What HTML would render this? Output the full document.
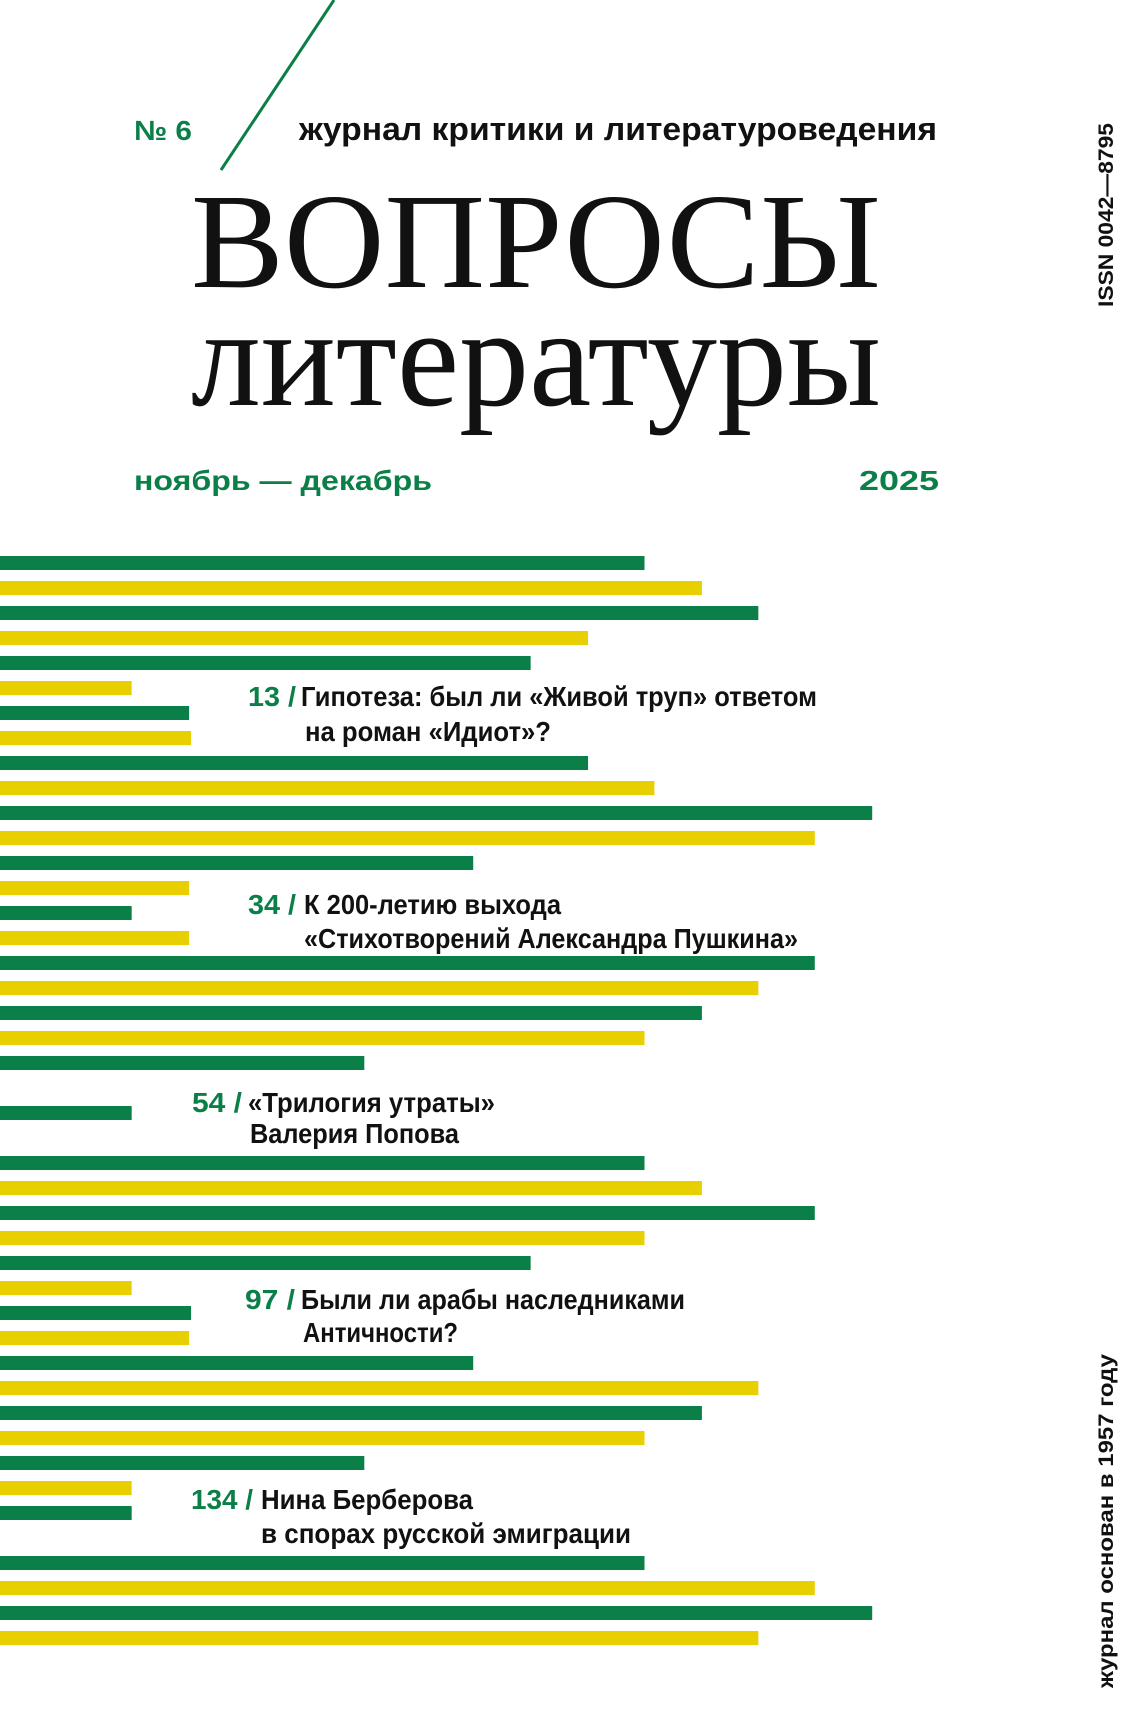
<!DOCTYPE html>
<html><head><meta charset="utf-8"><style>
html,body{margin:0;padding:0;background:#fff;}
svg{display:block;}
.n{fill:#0b7f48;font-family:"Liberation Sans",sans-serif;font-weight:bold;font-size:28px;}
.t{fill:#111;font-family:"Liberation Sans",sans-serif;font-weight:bold;font-size:28px;}
</style></head><body>
<svg width="1142" height="1733" viewBox="0 0 1142 1733" xmlns="http://www.w3.org/2000/svg">
<rect width="1142" height="1733" fill="#fff"/>
<line x1="334" y1="0" x2="221" y2="170" stroke="#0b7f48" stroke-width="3"/>
<text x="134" y="140" class="n" font-size="30" textLength="58" lengthAdjust="spacingAndGlyphs">№ 6</text>
<text x="299" y="140" fill="#111" font-family="Liberation Sans,sans-serif" font-weight="bold" font-size="32" textLength="638" lengthAdjust="spacingAndGlyphs">журнал критики и литературоведения</text>
<text x="191" y="287" fill="#111" font-family="Liberation Serif,serif" font-size="136" textLength="690" lengthAdjust="spacingAndGlyphs">ВОПРОСЫ</text>
<text x="191" y="405" fill="#111" font-family="Liberation Serif,serif" font-size="141" textLength="690" lengthAdjust="spacingAndGlyphs">литературы</text>
<text x="134" y="490" class="n" font-size="30" textLength="298" lengthAdjust="spacingAndGlyphs">ноябрь — декабрь</text>
<text x="859" y="490" class="n" font-size="30" textLength="80" lengthAdjust="spacingAndGlyphs">2025</text>
<text transform="translate(1113,307) rotate(-90)" fill="#111" font-family="Liberation Sans,sans-serif" font-weight="bold" font-size="21" textLength="184" lengthAdjust="spacingAndGlyphs">ISSN 0042—8795</text>
<text transform="translate(1113,1688) rotate(-90)" fill="#111" font-family="Liberation Sans,sans-serif" font-weight="bold" font-size="21" textLength="334" lengthAdjust="spacingAndGlyphs">журнал основан в 1957 году</text>
<g transform="scale(0.99,1)">
<rect x="0" y="556" width="651" height="14" fill="#0b7f48"/>
<rect x="0" y="581" width="709" height="14" fill="#e8d000"/>
<rect x="0" y="606" width="766" height="14" fill="#0b7f48"/>
<rect x="0" y="631" width="594" height="14" fill="#e8d000"/>
<rect x="0" y="656" width="536" height="14" fill="#0b7f48"/>
<rect x="0" y="681" width="133" height="14" fill="#e8d000"/>
<rect x="0" y="706" width="191" height="14" fill="#0b7f48"/>
<rect x="0" y="731" width="193" height="14" fill="#e8d000"/>
<rect x="0" y="756" width="594" height="14" fill="#0b7f48"/>
<rect x="0" y="781" width="661" height="14" fill="#e8d000"/>
<rect x="0" y="806" width="881" height="14" fill="#0b7f48"/>
<rect x="0" y="831" width="823" height="14" fill="#e8d000"/>
<rect x="0" y="856" width="478" height="14" fill="#0b7f48"/>
<rect x="0" y="881" width="191" height="14" fill="#e8d000"/>
<rect x="0" y="906" width="133" height="14" fill="#0b7f48"/>
<rect x="0" y="931" width="191" height="14" fill="#e8d000"/>
<rect x="0" y="956" width="823" height="14" fill="#0b7f48"/>
<rect x="0" y="981" width="766" height="14" fill="#e8d000"/>
<rect x="0" y="1006" width="709" height="14" fill="#0b7f48"/>
<rect x="0" y="1031" width="651" height="14" fill="#e8d000"/>
<rect x="0" y="1056" width="368" height="14" fill="#0b7f48"/>
<rect x="0" y="1106" width="133" height="14" fill="#0b7f48"/>
<rect x="0" y="1156" width="651" height="14" fill="#0b7f48"/>
<rect x="0" y="1181" width="709" height="14" fill="#e8d000"/>
<rect x="0" y="1206" width="823" height="14" fill="#0b7f48"/>
<rect x="0" y="1231" width="651" height="14" fill="#e8d000"/>
<rect x="0" y="1256" width="536" height="14" fill="#0b7f48"/>
<rect x="0" y="1281" width="133" height="14" fill="#e8d000"/>
<rect x="0" y="1306" width="193" height="14" fill="#0b7f48"/>
<rect x="0" y="1331" width="191" height="14" fill="#e8d000"/>
<rect x="0" y="1356" width="478" height="14" fill="#0b7f48"/>
<rect x="0" y="1381" width="766" height="14" fill="#e8d000"/>
<rect x="0" y="1406" width="709" height="14" fill="#0b7f48"/>
<rect x="0" y="1431" width="651" height="14" fill="#e8d000"/>
<rect x="0" y="1456" width="368" height="14" fill="#0b7f48"/>
<rect x="0" y="1481" width="133" height="14" fill="#e8d000"/>
<rect x="0" y="1506" width="133" height="14" fill="#0b7f48"/>
<rect x="0" y="1556" width="651" height="14" fill="#0b7f48"/>
<rect x="0" y="1581" width="823" height="14" fill="#e8d000"/>
<rect x="0" y="1606" width="881" height="14" fill="#0b7f48"/>
<rect x="0" y="1631" width="766" height="14" fill="#e8d000"/>
</g>

<text x="248" y="706" class="n" textLength="48" lengthAdjust="spacingAndGlyphs">13 /</text>
<text x="301" y="706" class="t" textLength="516" lengthAdjust="spacingAndGlyphs">Гипотеза: был ли «Живой труп» ответом</text>
<text x="305" y="741" class="t" textLength="246" lengthAdjust="spacingAndGlyphs">на роман «Идиот»?</text>

<text x="248" y="914" class="n" textLength="48" lengthAdjust="spacingAndGlyphs">34 /</text>
<text x="304" y="914" class="t" textLength="257" lengthAdjust="spacingAndGlyphs">К 200-летию выхода</text>
<text x="304" y="948" class="t" textLength="494" lengthAdjust="spacingAndGlyphs">«Стихотворений Александра Пушкина»</text>

<text x="192" y="1112" class="n" textLength="50" lengthAdjust="spacingAndGlyphs">54 /</text>
<text x="248" y="1112" class="t" textLength="247" lengthAdjust="spacingAndGlyphs">«Трилогия утраты»</text>
<text x="250" y="1143" class="t" textLength="209" lengthAdjust="spacingAndGlyphs">Валерия Попова</text>

<text x="245" y="1309" class="n" textLength="50" lengthAdjust="spacingAndGlyphs">97 /</text>
<text x="301" y="1309" class="t" textLength="384" lengthAdjust="spacingAndGlyphs">Были ли арабы наследниками</text>
<text x="303" y="1342" class="t" textLength="155" lengthAdjust="spacingAndGlyphs">Античности?</text>

<text x="191" y="1509" class="n" textLength="62" lengthAdjust="spacingAndGlyphs">134 /</text>
<text x="261" y="1509" class="t" textLength="212" lengthAdjust="spacingAndGlyphs">Нина Берберова</text>
<text x="261" y="1543" class="t" textLength="370" lengthAdjust="spacingAndGlyphs">в спорах русской эмиграции</text>
</svg>
</body></html>
